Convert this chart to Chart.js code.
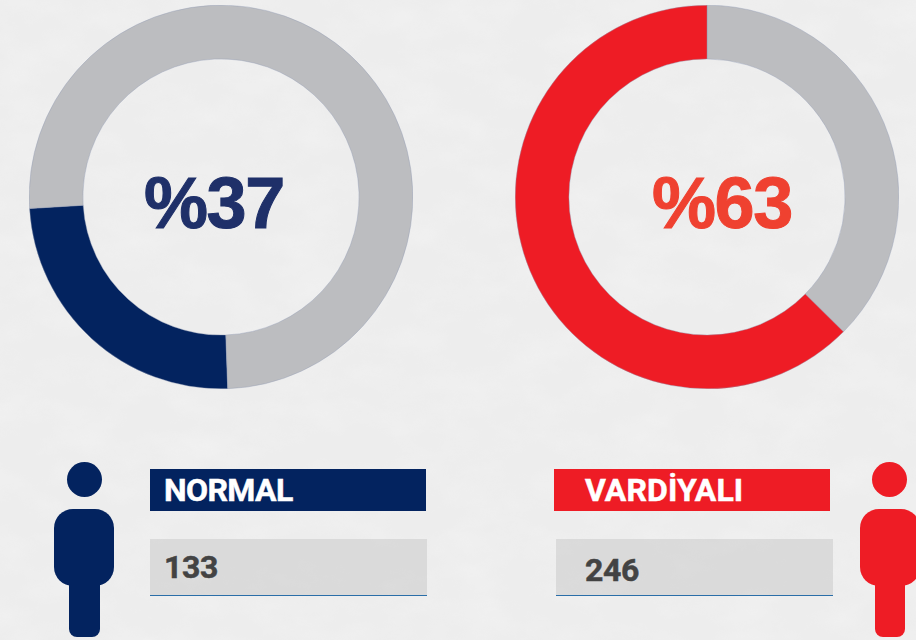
<!DOCTYPE html>
<html>
<head>
<meta charset="utf-8">
<script src="https://cdn.jsdelivr.net/npm/chart.js@4"></script>
<style>
html, body { margin: 0; padding: 0; }
body {
  width: 916px; height: 640px; overflow: hidden; position: relative;
  background-color: #ededed;
  font-family: Roboto, sans-serif;
}
/* mottled paper look */
#paper { position: absolute; left: 0; top: 0; }
canvas { position: absolute; }
.box, .pct, .lbl, .person div { position: absolute; }
.pct { font: bold 72px "Liberation Sans", sans-serif; letter-spacing: -1.4px; line-height: 76px; white-space: nowrap; -webkit-text-stroke: 1px currentColor; }
.lbl { font-weight: 700; font-size: 32px; line-height: 32px; white-space: nowrap; letter-spacing: -0.4px; -webkit-text-stroke: 0.5px currentColor; }
.val { background: rgba(120,120,120,0.16); border-bottom: 1px solid #2a6ea8; box-sizing: border-box; }
.person div { background: currentColor; }
</style>
</head>
<body>
<svg id="paper" width="916" height="640">
  <filter id="mottle">
    <feTurbulence type="fractalNoise" baseFrequency="0.018 0.03" numOctaves="4" seed="7"/>
    <feColorMatrix values="0 0 0 0 1  0 0 0 0 1  0 0 0 0 1  1.1 0 0 0 -0.42"/>
  </filter>
  <rect width="916" height="640" filter="url(#mottle)" opacity="0.35"/>
</svg>

<canvas id="normalChart" width="384" height="384" style="left:29px;top:5px"></canvas>
<canvas id="vardiyaChart" width="384" height="384" style="left:515px;top:5px"></canvas>

<div class="pct" id="normalPct" style="left:144px;top:165px;color:#1f3069"></div>
<div class="pct" id="vardiyaPct" style="left:652px;top:165px;color:#ef4130"></div>

<div class="person" style="color:#03235f">
  <div style="left:67px;top:462px;width:35px;height:35px;border-radius:50%"></div>
  <div style="left:54px;top:509px;width:60px;height:77px;border-radius:19px"></div>
  <div style="left:69px;top:570px;width:31px;height:67px;border-radius:0 0 8px 8px"></div>
</div>
<div class="person" style="color:#ee1c25">
  <div style="left:872px;top:462px;width:35px;height:35px;border-radius:50%"></div>
  <div style="left:860px;top:509px;width:60px;height:77px;border-radius:19px"></div>
  <div style="left:875px;top:570px;width:30px;height:67px;border-radius:0 0 8px 8px"></div>
</div>

<div class="box" style="left:150px;top:469px;width:276px;height:42px;background:#03235f"></div>
<div class="box val" style="left:150px;top:539px;width:277px;height:57px"></div>
<div class="lbl" id="normalLabel" style="left:164px;top:474px;color:#fff;letter-spacing:-0.6px"></div>
<div class="lbl" id="normalValue" style="left:164px;top:551px;color:#434343"></div>

<div class="box" style="left:554px;top:469px;width:276px;height:42px;background:#ee1c25"></div>
<div class="box val" style="left:556px;top:539px;width:277px;height:57px"></div>
<div class="lbl" id="vardiyaLabel" style="left:585px;top:474px;color:#fff;letter-spacing:0.1px"></div>
<div class="lbl" id="vardiyaValue" style="left:585px;top:554px;color:#434343"></div>

<script>
// DATA
const names = ["NORMAL", "VARDİYALI"];
const counts = ["133", "246"];
const percentLabels = ["%37", "%63"];
const normalShares = [24.6, 75.4];   // navy arc, grey arc
const vardiyaShares = [37.4, 62.6];  // grey arc, red arc

function donut(id, data, colors, rotation) {
  return new Chart(document.getElementById(id), {
    type: "doughnut",
    data: { datasets: [{ data, backgroundColor: colors, borderWidth: 0.4, borderColor: "#8f9ab4" }] },
    options: {
      responsive: false,
      animation: false,
      cutout: "72%",
      rotation,
      plugins: { legend: { display: false }, tooltip: { enabled: false } }
    }
  });
}

donut("normalChart", normalShares, ["#03235f", "#bcbdc0"], 178);
donut("vardiyaChart", vardiyaShares, ["#bcbdc0", "#ee1c25"], 0);

document.getElementById("normalPct").textContent = percentLabels[0];
document.getElementById("vardiyaPct").textContent = percentLabels[1];
document.getElementById("normalLabel").textContent = names[0];
document.getElementById("vardiyaLabel").textContent = names[1];
document.getElementById("normalValue").textContent = counts[0];
document.getElementById("vardiyaValue").textContent = counts[1];
</script>
</body>
</html>
